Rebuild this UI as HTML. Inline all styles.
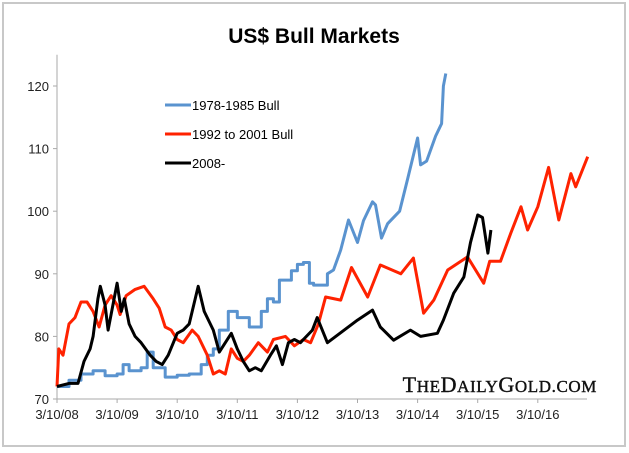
<!DOCTYPE html>
<html><head><meta charset="utf-8"><style>
body{margin:0;background:#fff;}
svg{display:block;font-family:"Liberation Sans",sans-serif;}
</style></head><body>
<svg id="chart" width="629" height="453">
<rect x="3" y="3" width="622" height="443" fill="#fff" stroke="#c8c8c8" stroke-width="2"/>
<text x="314" y="43" text-anchor="middle" font-size="21" font-weight="bold" fill="#000">US$ Bull Markets</text>
<g id="axes"></g>
<g id="series"></g>
<g>
<g><line x1="165" y1="105" x2="191" y2="105" stroke="#5a93cf" stroke-width="3"/><text x="192" y="110" font-size="13">1978-1985 Bull</text></g>
<g><line x1="165" y1="134" x2="191" y2="134" stroke="#ff2200" stroke-width="3"/><text x="192" y="139" font-size="13">1992 to 2001 Bull</text></g>
<g><line x1="165" y1="163" x2="191" y2="163" stroke="#000" stroke-width="3"/><text x="192" y="168" font-size="13">2008-</text></g>
</g>
<text x="597" y="392" text-anchor="end" font-family="Liberation Serif,serif" font-size="22" fill="#111" stroke="#111" stroke-width="0.4" letter-spacing="0.6">T<tspan font-size="17">HE</tspan>D<tspan font-size="17">AILY</tspan>G<tspan font-size="17">OLD.COM</tspan></text>
</svg>
<script>
const yTicks=[70,80,90,100,110,120];
const xTickLabels=["3/10/08","3/10/09","3/10/10","3/10/11","3/10/12","3/10/13","3/10/14","3/10/15","3/10/16"];
const blueX=[0,0.2,0.4,0.6,0.8,1.0,1.1,1.2,1.4,1.5,1.6,1.8,2.0,2.2,2.4,2.5,2.6,2.7,2.85,3.0,3.2,3.4,3.5,3.6,3.7,3.9,4.0,4.1,4.2,4.27,4.5,4.6,4.72,4.85,5.0,5.1,5.25,5.3,5.4,5.5,5.7,5.83,6.0,6.05,6.15,6.3,6.4,6.43,6.47];
const blueY=[72,73,74,74.5,73.7,74,75.5,74.5,75,77.5,75,73.5,73.8,74,75.5,77,78,81,84,83,81.5,84,86,85.5,89,90.5,91.5,91.8,88.5,88.2,90,90.6,93.8,98.6,95,98.5,101.5,101,95.7,98,100,105,111.7,107.4,108,112,114,120,122];
const redX=[0,0.03,0.1,0.2,0.3,0.4,0.5,0.6,0.7,0.8,0.9,1.0,1.05,1.15,1.3,1.45,1.6,1.7,1.8,1.9,2.0,2.1,2.25,2.35,2.5,2.6,2.7,2.8,2.9,3.0,3.1,3.2,3.35,3.5,3.6,3.8,3.95,4.1,4.22,4.35,4.47,4.72,4.9,5.17,5.38,5.72,5.93,6.1,6.27,6.5,6.83,7.1,7.2,7.38,7.55,7.72,7.83,8.0,8.18,8.35,8.55,8.63,8.83];
const redY=[72,78,77,82,83,85.5,85.5,84,81.5,85,86.5,85,83.5,86.5,87.5,88,86,84.5,81.5,81,79.5,79,81,80,77,74,74.5,74,78,76.5,76,77,79,77.5,79.5,80,78.5,79.5,79,82,86.3,85.8,91,86.3,91.4,90,92.5,83.7,85.8,90.6,92.7,88.5,92,92,96.5,100.7,97,100.7,107,98.6,106,103.9,108.7];
const blackX=[0,0.2,0.35,0.45,0.55,0.6,0.68,0.72,0.8,0.85,0.95,1.0,1.07,1.12,1.2,1.3,1.4,1.55,1.65,1.75,1.85,2.0,2.1,2.2,2.3,2.35,2.45,2.6,2.7,2.8,2.9,3.0,3.1,3.2,3.3,3.4,3.55,3.65,3.75,3.85,3.95,4.05,4.15,4.25,4.33,4.5,5.0,5.25,5.38,5.6,5.88,6.05,6.33,6.43,6.6,6.77,6.88,7.0,7.08,7.17,7.22];
const blackY=[72,72.5,72.5,76,78,80,86,88,85,81,86,88.5,84,86,82,80,79,77,76,75.5,77,80.5,81,82,86,88,84,81,77.5,79,80.5,78,76,74.5,75,74.5,77,78.5,75.5,79,79.5,79,80,81,83,79,82.6,84.2,81.5,79.4,81,80,80.5,82.6,86.9,89.5,95,99.4,99,93.3,97];
const NS="http://www.w3.org/2000/svg";
const X0=57,PXY=60.1,Y0=399,PXV=6.26;
function sx(t){return X0+t*PXY;}
function sy(v){return Y0-(v-70)*PXV;}
const axes=document.getElementById('axes');
function mk(tag,attrs,parent){const e=document.createElementNS(NS,tag);for(const k in attrs)e.setAttribute(k,attrs[k]);parent.appendChild(e);return e;}
const ya=mk('line',{x1:X0,y1:sy(125),x2:X0,y2:Y0,stroke:'#aaa','stroke-width':1},axes);


const xa=mk('line',{x1:X0,y1:Y0,x2:587,y2:Y0,stroke:'#aaa','stroke-width':1},axes);


yTicks.forEach(v=>{
  mk('line',{x1:X0-4,y1:sy(v),x2:X0,y2:sy(v),stroke:'#aaa'},axes);
  const t=mk('text',{x:X0-8,y:sy(v)+5,'text-anchor':'end','font-size':13,fill:'#222'},axes);
  t.textContent=v;
  
  
});
xTickLabels.forEach((l,i)=>{
  mk('line',{x1:sx(i),y1:Y0,x2:sx(i),y2:Y0+4,stroke:'#aaa'},axes);
  const t=mk('text',{x:sx(i),y:Y0+20,'text-anchor':'middle','font-size':13,fill:'#222'},axes);
  t.textContent=l;
  
  
});
const ser=document.getElementById('series');
function line(xs,ys,color,name,stepUntil){
  let d='';
  xs.forEach((x,i)=>{
    if(i===0){d+='M'+sx(x).toFixed(1)+','+sy(ys[i]).toFixed(1);return;}
    if(x<=stepUntil)d+='L'+sx(x).toFixed(1)+','+sy(ys[i-1]).toFixed(1);
    d+='L'+sx(x).toFixed(1)+','+sy(ys[i]).toFixed(1);
  });
  const p=mk('path',{d:d,fill:'none',stroke:color,'stroke-width':3,'stroke-linejoin':'round'},ser);
  
  
}
line(blueX,blueY,'#5a93cf','series-1978-1985-bull',4.5);
line(redX,redY,'#ff2200','series-1992-2001-bull',-1);
line(blackX,blackY,'#000','series-2008',-1);
</script>
</body></html>
